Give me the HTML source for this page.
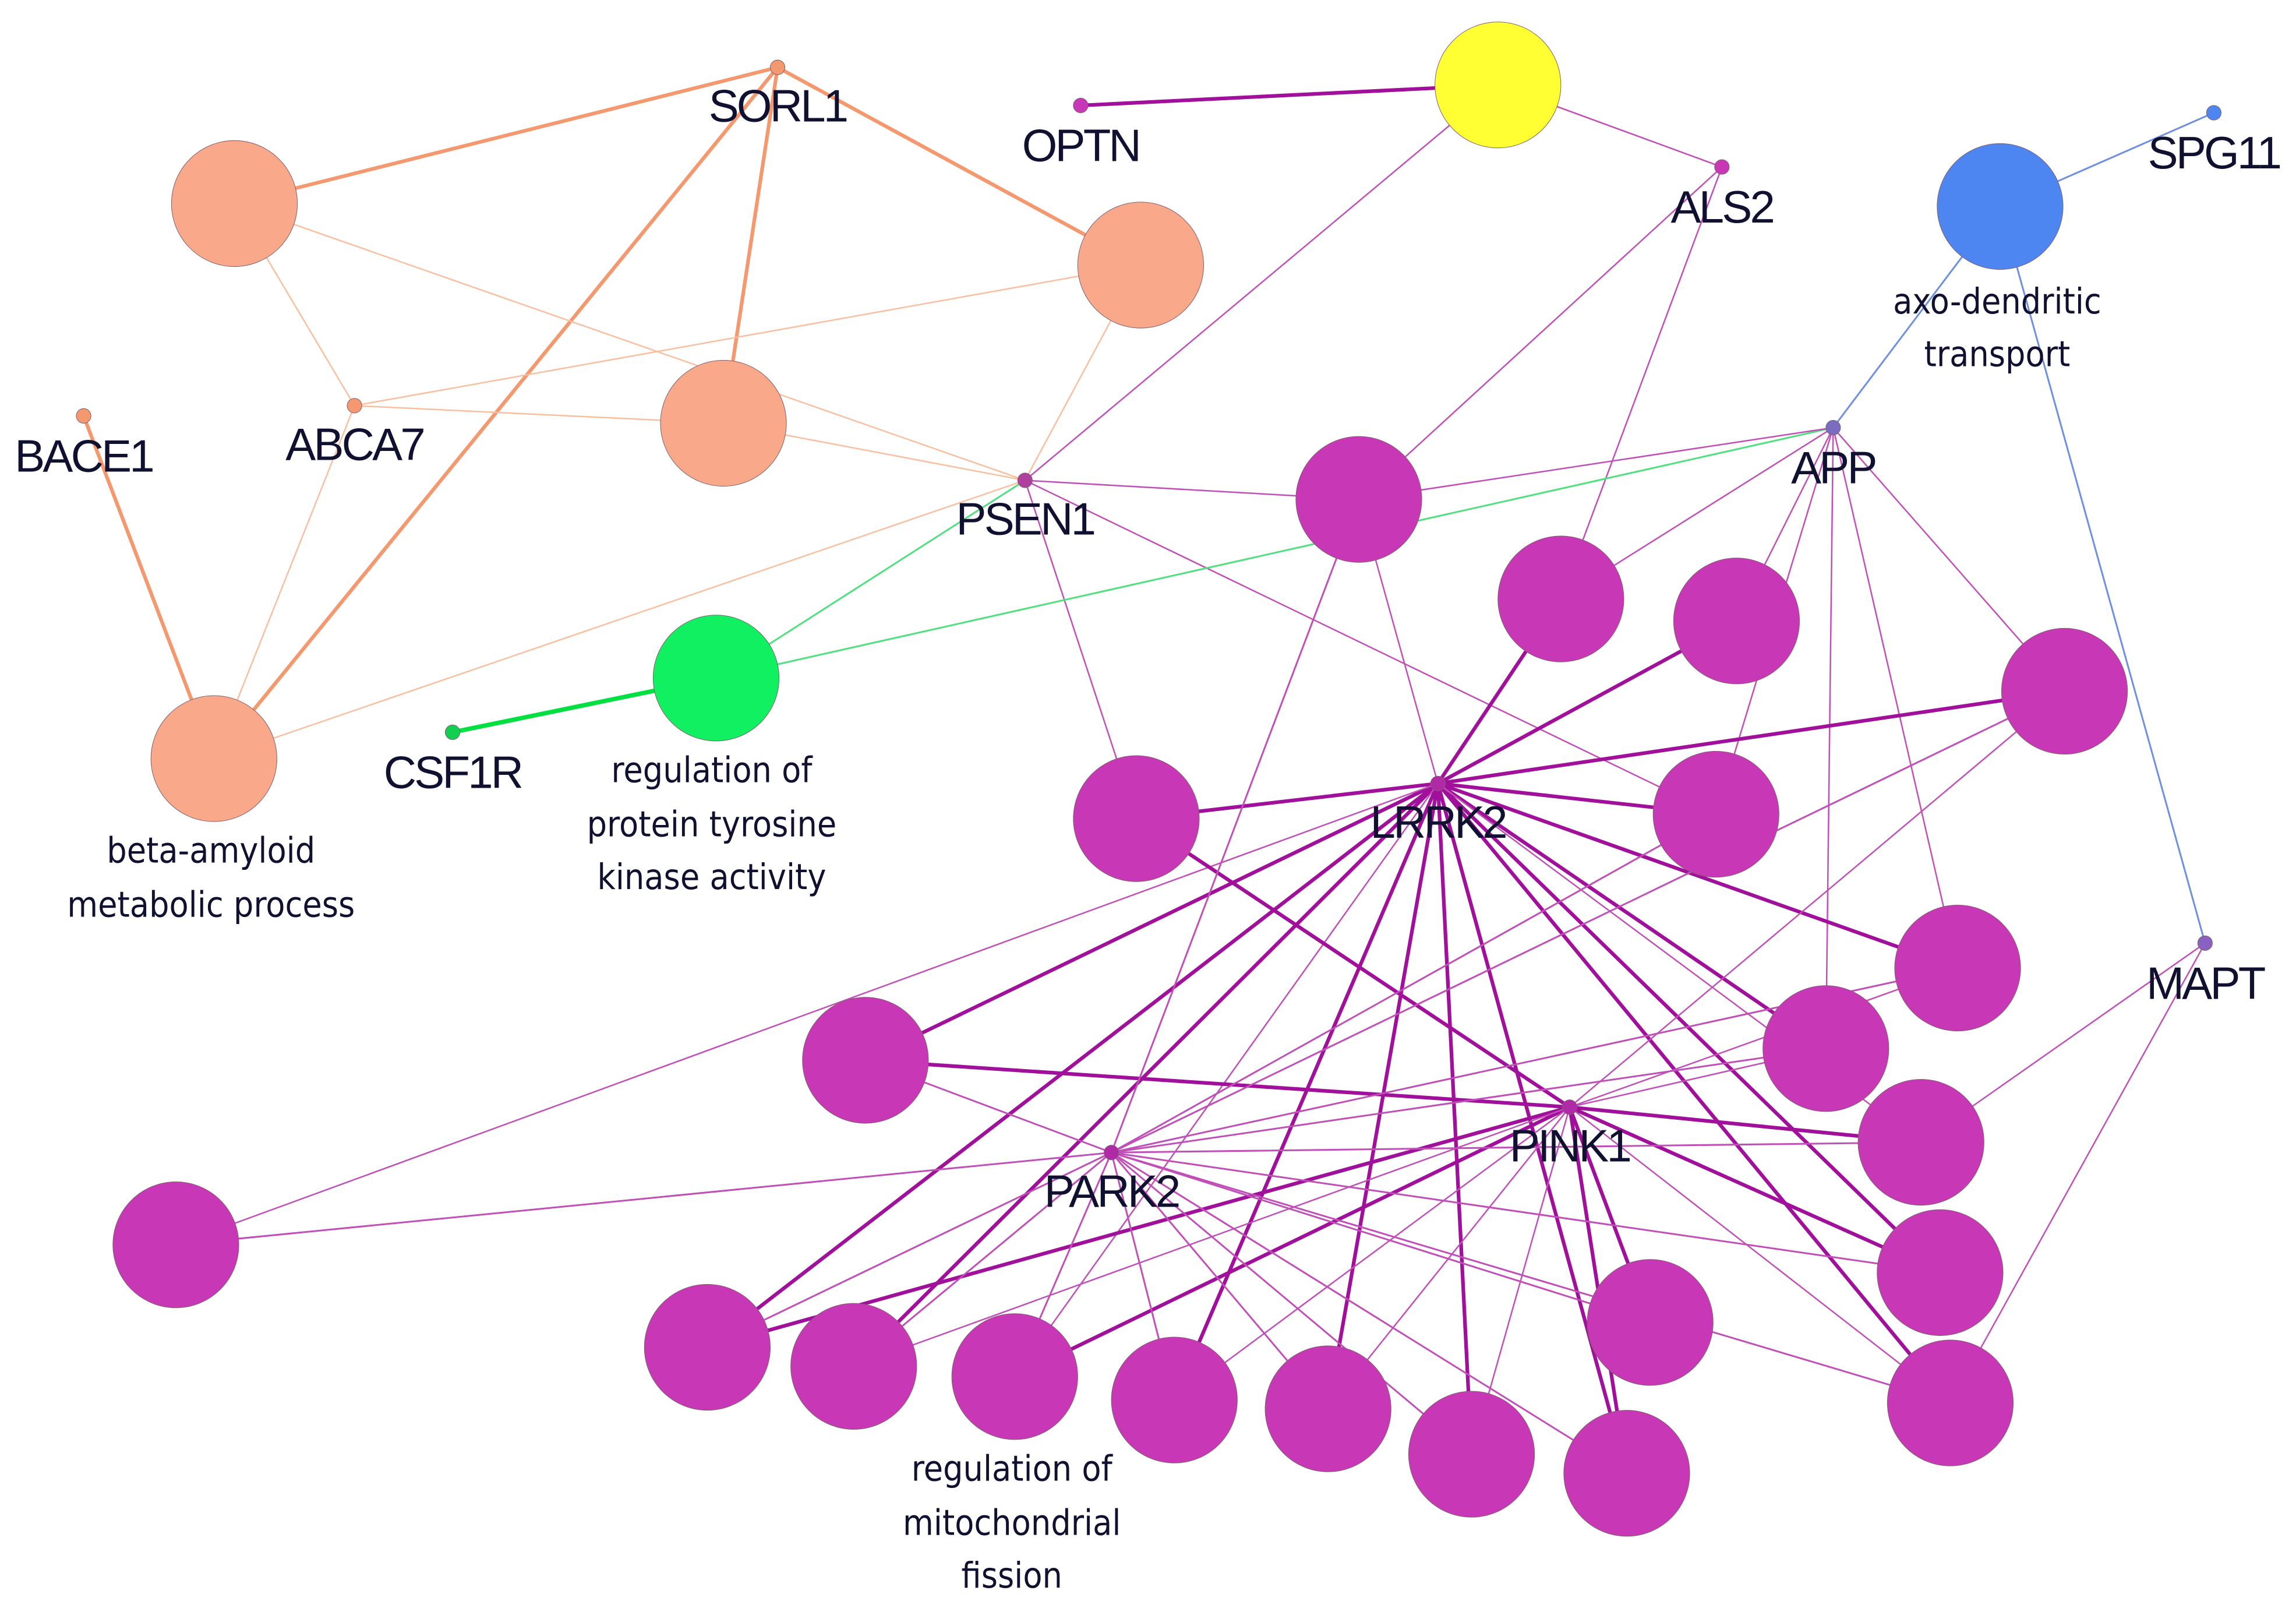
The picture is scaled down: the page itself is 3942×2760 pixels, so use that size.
<!DOCTYPE html>
<html><head><meta charset="utf-8"><style>
html,body{margin:0;padding:0;background:#fff}
svg{display:block}
.g{font-family:"Liberation Sans",sans-serif;font-size:31px;fill:#101030;letter-spacing:-1.5px}
.t{font-family:"DejaVu Sans Condensed","DejaVu Sans",sans-serif;font-size:24px;fill:#101030}
</style></head><body>
<svg id="s" width="3942" height="2760" viewBox="0 0 1568 1098" xmlns="http://www.w3.org/2000/svg">
<g id="e"></g><g id="n"></g>
<text class="g" x="531" y="83" text-anchor="middle">SORL1</text>
<text class="g" x="738" y="110" text-anchor="middle">OPTN</text>
<text class="g" x="1176" y="152" text-anchor="middle">ALS2</text>
<text class="g" x="1512" y="115" text-anchor="middle">SPG11</text>
<text class="g" x="57" y="322" text-anchor="middle">BACE1</text>
<text class="g" x="242" y="314" text-anchor="middle">ABCA7</text>
<text class="g" x="700" y="365" text-anchor="middle">PSEN1</text>
<text class="g" x="1252" y="330" text-anchor="middle">APP</text>
<text class="g" x="309" y="538" text-anchor="middle">CSF1R</text>
<text class="g" x="982" y="572" text-anchor="middle">LRRK2</text>
<text class="g" x="1506" y="682" text-anchor="middle">MAPT</text>
<text class="g" x="1072" y="793" text-anchor="middle">PINK1</text>
<text class="g" x="759" y="824" text-anchor="middle">PARK2</text>
<text class="t" x="1364" y="214" text-anchor="middle">axo-dendritic</text>
<text class="t" x="1364" y="250" text-anchor="middle">transport</text>
<text class="t" x="144" y="589" text-anchor="middle">beta-amyloid</text>
<text class="t" x="144" y="626" text-anchor="middle">metabolic process</text>
<text class="t" x="486" y="534" text-anchor="middle">regulation of</text>
<text class="t" x="486" y="571" text-anchor="middle">protein tyrosine</text>
<text class="t" x="486" y="607" text-anchor="middle">kinase activity</text>
<text class="t" x="691" y="1011" text-anchor="middle">regulation of</text>
<text class="t" x="691" y="1048" text-anchor="middle">mitochondrial</text>
<text class="t" x="691" y="1084" text-anchor="middle">fission</text>
</svg>
<script>
var N={A:[160,139,43,'#f9a98a'],B:[779,181,43,'#f9a98a'],C:[494,289,43,'#f9a98a'],D:[146,518,43,'#f9a98a'],
SORL1:[531,46,5,'#f4996f'],ABCA7:[242,277,5,'#f4996f'],BACE1:[57,284,5,'#f4996f'],PSEN1:[700,328,5,'#b040a0'],
Y:[1023,58,43,'#ffff33'],OPTN:[738,72,5,'#c837b5'],ALS2:[1176,114,5,'#c837b5'],
BL:[1366,141,43,'#4d86f0'],SPG11:[1512,77,5,'#4d86f0'],APP:[1252,292,5,'#7a6cc0'],MAPT:[1506,644,5,'#8a60c0'],
G:[489,463,43,'#11f060'],CSF1R:[309,500,5,'#11d050'],
LRRK2:[982,535,5,'#b02aa8'],PINK1:[1072,756,5,'#b02aa8'],PARK2:[759,787,5,'#b02aa8'],
p1:[928,341],p2:[1066,409],p3:[1186,424],p4:[1410,472],p5:[776,559],p6:[1172,556],p7:[1337,661],p8:[1247,716],p9:[1312,780],
p10:[591,724],p11:[120,850],p12:[1325,869],p13:[1127,903],p14:[1332,958],p15:[483,920],p16:[583,933],p17:[693,940],p18:[802,956],p19:[907,962],p20:[1005,993],p21:[1111,1006]};
for(var i=1;i<=21;i++){N['p'+i][2]=43;N['p'+i][3]='#c837b5';}
var E=[];
function add(c,w,a,list){list.forEach(function(b){E.push([a,b,c,w]);});}
var O='#f4996f',OL='#f8c0a0',P='#a0109a',PL='#c050b8';
add(O,2.5,'SORL1',['A','B','C','D']);add(O,2.5,'BACE1',['D']);
add(OL,1,'A',['ABCA7','PSEN1']);add(OL,1,'ABCA7',['C','B','D']);add(OL,1,'PSEN1',['C','B','D']);
add(P,2.5,'OPTN',['Y']);add(PL,1,'Y',['ALS2','PSEN1']);add(PL,1,'ALS2',['p1','p2']);
add(PL,1,'PSEN1',['p1','p5','p6']);
add('#50e080',1.2,'G',['PSEN1','APP']);add('#00e040',3,'CSF1R',['G']);
add('#6f90e0',1.2,'BL',['SPG11','APP','MAPT']);
add(PL,1,'APP',['p2','p3','p4','p7','p8','p6','p1']);
add(PL,1,'MAPT',['p9','p14']);
add(P,2.5,'LRRK2',['p2','p3','p4','p5','p6','p7','p8','p10','p15','p16','p18','p19','p20','p21','p14','p12']);
add(PL,1,'LRRK2',['p1','p17','p9','p11']);
add(P,2.5,'PINK1',['p10','p9','p12','p15','p17','p21','p5','p13']);
add(PL,1,'PINK1',['p16','p18','p19','p20','p8','p7','p4','p14']);
add(PL,1.2,'PARK2',['p11','p10','p15','p16','p17','p18','p19','p20','p21','p12','p13','p14','p9','p8','p7','p4','p6','p1']);
var s='';E.forEach(function(e){var a=N[e[0]],b=N[e[1]];s+='<line x1="'+a[0]+'" y1="'+a[1]+'" x2="'+b[0]+'" y2="'+b[1]+'" stroke="'+e[2]+'" stroke-width="'+e[3]+'"/>';});
document.getElementById('e').innerHTML=s;
s='';for(var k in N){var n=N[k];s+='<circle cx="'+n[0]+'" cy="'+n[1]+'" r="'+n[2]+'" fill="'+n[3]+'" stroke="#806070" stroke-width="0.4"/>';}
document.getElementById('n').innerHTML=s;
</script>
</body></html>
